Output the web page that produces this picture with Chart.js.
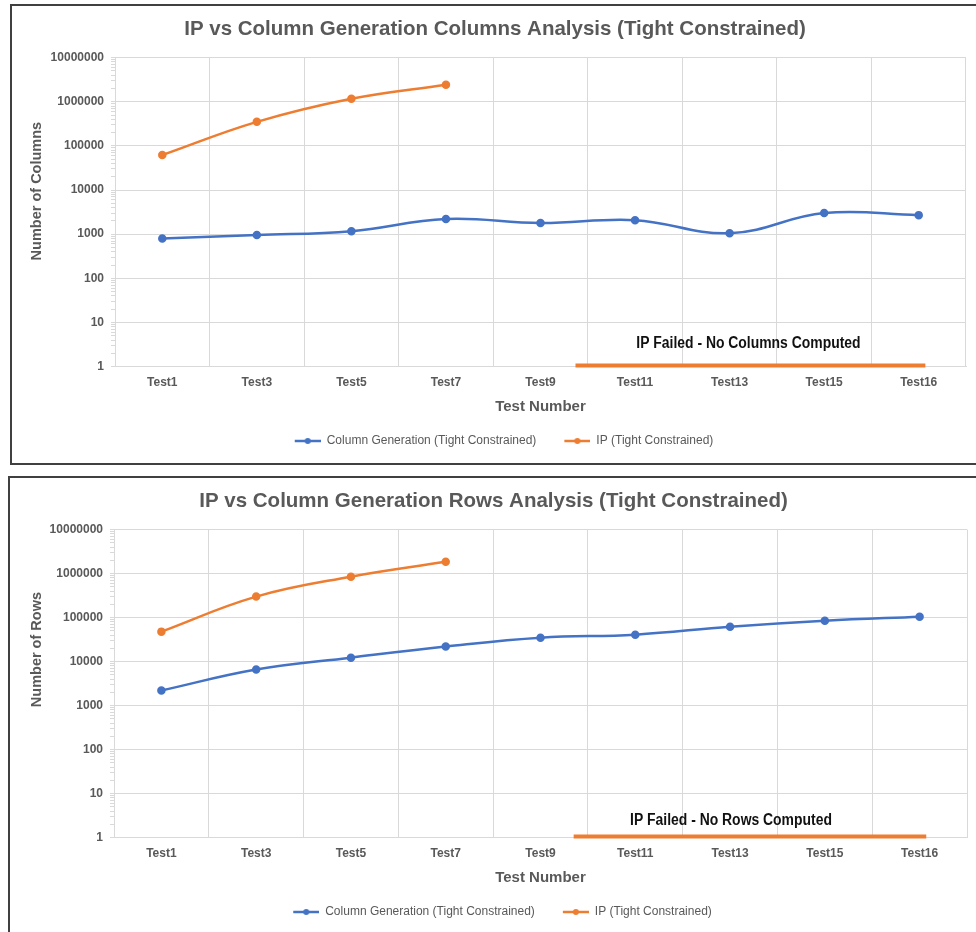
<!DOCTYPE html>
<html>
<head>
<meta charset="utf-8">
<script src="https://cdn.jsdelivr.net/npm/chart.js@4/dist/chart.umd.min.js"></script>
<style>
  html, body { margin: 0; padding: 0; background: #fff; overflow: hidden; width: 976px; height: 932px; }
  .box { position: absolute; border: 2px solid #404040; background: #fff; }
  #box1 { left: 10px; top: 4px; width: 980px; height: 457px; overflow: hidden; }
  #box2 { left: 8px; top: 476px; width: 980px; height: 470px; overflow: hidden; }
  canvas { display: block; }
</style>
</head>
<body>
<div class="box" id="box1"><canvas id="colsChart" width="971" height="457"></canvas></div>
<div class="box" id="box2"><canvas id="rowsChart" width="971" height="456"></canvas></div>
<script>
// data
var categories = ['Test1', 'Test3', 'Test5', 'Test7', 'Test9', 'Test11', 'Test13', 'Test15', 'Test16'];
var colsCG = [800, 960, 1170, 2200, 1780, 2080, 1050, 3000, 2700];
var colsIP = [62000, 350000, 1170000, 2430000, null, null, null, null, null];
var rowsCG = [2200, 6600, 12300, 22000, 35000, 41000, 62000, 85000, 105000];
var rowsIP = [48000, 300000, 850000, 1850000, null, null, null, null, null];
var yTicks = [1, 10, 100, 1000, 10000, 100000, 1000000, 10000000];
var seriesNames = ['Column Generation (Tight Constrained)', 'IP (Tight Constrained)'];

var BLUE = '#4472C4', ORANGE = '#ED7D31', GRID = '#D9D9D9', TEXT = '#595959';
var FONT = '"Liberation Sans", Arial, sans-serif';

Chart.defaults.font.family = FONT;
Chart.defaults.color = TEXT;

// legend marker: short line with a dot, drawn right-aligned so items get a gap
function legendMarker(color) {
  var c = document.createElement('canvas');
  c.width = 44; c.height = 8;
  var g = c.getContext('2d');
  g.strokeStyle = color; g.lineWidth = 2.5;
  g.beginPath(); g.moveTo(18, 4); g.lineTo(44, 4); g.stroke();
  g.fillStyle = color;
  g.beginPath(); g.arc(31, 4, 3, 0, Math.PI * 2); g.fill();
  return c;
}
var markers = [legendMarker(BLUE), legendMarker(ORANGE)];

// orange "IP failed" bar on the value-1 baseline + caption, and the y title (Excel puts it above centre)
var failNote = {
  id: 'failNote',
  afterDatasetsDraw: function (chart, args, opts) {
    var x = chart.scales.x, y = chart.scales.y, ctx = chart.ctx, area = chart.chartArea;
    var step = x.getPixelForValue(1) - x.getPixelForValue(0);
    var x0 = x.getPixelForValue(opts.from[0]) + opts.from[1] * step;
    var x1 = x.getPixelForValue(opts.to[0]) + opts.to[1] * step;
    var yy = y.getPixelForValue(1);
    ctx.save();
    ctx.strokeStyle = ORANGE; ctx.lineWidth = 4;
    ctx.beginPath(); ctx.moveTo(x0, yy - 1); ctx.lineTo(x1, yy - 1); ctx.stroke();
    ctx.fillStyle = '#111';
    ctx.font = 'bold 16px ' + FONT;
    ctx.textAlign = 'center'; ctx.textBaseline = 'middle';
    ctx.translate((x0 + x1) / 2 + opts.dx, yy - opts.dy);
    ctx.scale(0.87, 1);
    ctx.fillText(opts.text, 0, 0);
    ctx.restore();

    ctx.save();
    ctx.fillStyle = TEXT;
    ctx.font = 'bold 14.5px ' + FONT;
    ctx.textAlign = 'center'; ctx.textBaseline = 'middle';
    ctx.translate(opts.titleX, (area.top + area.bottom) / 2 + opts.titleShift);
    ctx.rotate(-Math.PI / 2);
    ctx.fillText(opts.yTitle, 0, 0);
    ctx.restore();
  }
};

function makeChart(id, title, cg, ip, plotLeft, padLeft, padRight, note) {
  var el = document.getElementById(id);
  return new Chart(el.getContext('2d'), {
    type: 'line',
    data: {
      labels: categories,
      datasets: [
        { label: seriesNames[0], data: cg, borderColor: BLUE, backgroundColor: BLUE, borderWidth: 2.5, tension: 0.4, pointRadius: 3, pointHoverRadius: 3 },
        { label: seriesNames[1], data: ip, borderColor: ORANGE, backgroundColor: ORANGE, borderWidth: 2.5, tension: 0.4, pointRadius: 3, pointHoverRadius: 3 }
      ]
    },
    options: {
      responsive: false, animation: false, devicePixelRatio: 1,
      layout: { padding: { left: padLeft, right: padRight, top: 0, bottom: 6 } },
      plugins: {
        title: { display: true, text: title, color: TEXT, font: { size: 20.5, weight: 'bold' }, padding: { top: 11.5, bottom: 15.5 } },
        legend: {
          position: 'bottom',
          labels: {
            usePointStyle: true, pointStyleWidth: 44, boxHeight: 12,
            color: TEXT, font: { size: 12 }, padding: 10,
            generateLabels: function (chart) {
              var items = Chart.defaults.plugins.legend.labels.generateLabels(chart);
              items.forEach(function (it, i) { it.pointStyle = markers[i]; });
              return items;
            }
          }
        },
        tooltip: { enabled: false },
        failNote: note
      },
      scales: {
        x: {
          offset: true,
          grid: { offset: true, color: GRID, drawTicks: false },
          border: { color: GRID },
          ticks: { color: TEXT, font: { size: 12, weight: 'bold' }, padding: 9 },
          title: { display: true, text: 'Test Number', color: TEXT, font: { size: 15, weight: 'bold', lineHeight: 1 }, padding: { top: 0, bottom: 11 } }
        },
        y: {
          type: 'logarithmic', min: 1, max: 10000000,
          afterFit: function (s) { s.width = plotLeft - padLeft; },
          afterBuildTicks: function (s) {
            var t = [];
            yTicks.forEach(function (d, i) {
              t.push({ value: d });
              if (i < yTicks.length - 1) for (var k = 2; k < 10; k++) t.push({ value: d * k });
            });
            s.ticks = t;
          },
          grid: {
            color: function (c) { return c.tick && yTicks.indexOf(c.tick.value) >= 0 ? GRID : 'rgba(0,0,0,0)'; },
            tickColor: GRID, tickLength: 4
          },
          border: { color: GRID },
          ticks: {
            color: TEXT, font: { size: 12, weight: 'bold' }, padding: 7, autoSkip: false,
            callback: function (v) { return yTicks.indexOf(v) >= 0 ? String(v) : ''; }
          }
        }
      }
    },
    plugins: [failNote]
  });
}

document.addEventListener('DOMContentLoaded', function () {
  makeChart('colsChart', 'IP vs Column Generation Columns Analysis (Tight Constrained)', colsCG, colsIP, 103, 12, 17,
    { from: [4, 0.37], to: [8, 0.07], text: 'IP Failed - No Columns Computed', dx: -2, dy: 23,
      yTitle: 'Number of Columns', titleX: 25, titleShift: -21 });
  makeChart('rowsChart', 'IP vs Column Generation Rows Analysis (Tight Constrained)', rowsCG, rowsIP, 104, 10, 14,
    { from: [4, 0.35], to: [8, 0.07], text: 'IP Failed - No Rows Computed', dx: -19, dy: 17,
      yTitle: 'Number of Rows', titleX: 27, titleShift: -34 });
});
</script>
</body>
</html>
